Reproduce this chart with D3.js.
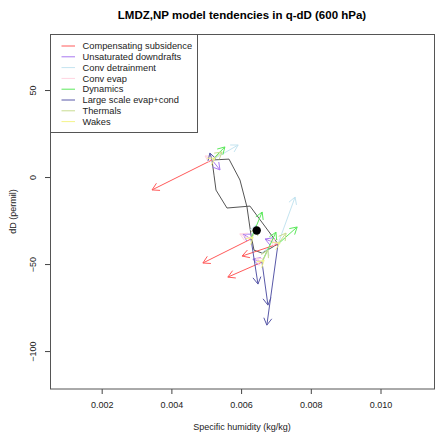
<!DOCTYPE html>
<html>
<head>
<meta charset="utf-8">
<script src="https://cdn.jsdelivr.net/npm/d3@7"></script>
<style>
  body { margin: 0; background: #fff; }
  svg { font-family: "Liberation Sans", Arial, sans-serif; }
</style>
</head>
<body>
<div id="chart"></div>
<script>
// tendency names (legend order) and colours
const tendencies = ['Compensating subsidence', 'Unsaturated downdrafts', 'Conv detrainment',
    'Conv evap', 'Dynamics', 'Large scale evap+cond', 'Thermals', 'Wakes'];
const tendencyColors = ['#ff5a5a', '#a878f0', '#c4e4f0', '#ffd4e0', '#5ae85a', '#5858a8', '#c8dc90', '#f4f48a'];

// ticks
const xTicks = [0.002, 0.004, 0.006, 0.008, 0.010];
const yTicks = [50, 0, -50, -100];

// q-dD trajectory
const trajQ = [0.005165, 0.005653, 0.005968, 0.006169, 0.006284, 0.006370, 0.006600, 0.007059,
    0.006255, 0.005595, 0.005280, 0.005223, 0.005165];
const trajDD = [9.8, 10.3, -1.7, -17.2, -33.3, -42.0, -43.7, -38.5, -16.7, -17.8, -7.5, 1.1, 9.8];

// mean point
const meanQ = 0.006448;
const meanDD = -30.7;

// arrow origins
const originQ = [0.005165, 0.006284, 0.007059, 0.006600];
const originDD = [9.8, -35.6, -38.5, -48.9];

// tendencies at each origin (dq, ddD)
const compSubsDq = [-0.00172, -0.00138, -0.00103, -0.00098];
const compSubsDdD = [-17.2, -13.8, -6.9, -8.6];
const unsatDownDq = [0.00023, -0.00023, -0.00037, -0.00026];
const unsatDownDdD = [-5.7, 2.9, 2.9, 1.7];
const convDetrDq = [0.00075, 0.00014, 0.00049, 0.00017];
const convDetrDdD = [8.6, 8.0, 27.0, 8.0];
const convEvapDq = [-0.00020, -0.00032, -0.00023, -0.00017];
const convEvapDdD = [2.3, 2.9, 2.3, 2.3];
const dynamicsDq = [0.00037, 0.00032, 0.00055, 0.00040];
const dynamicsDdD = [7.5, 15.5, 9.8, 17.2];
const largeScaleDq = [-0.00006, 0.00020, -0.00032, 0.00017];
const largeScaleDdD = [4.0, -25.9, -46.6, -24.7];
const thermalsDq = [0.00029, 0.00020, 0.00023, 0.00017];
const thermalsDdD = [4.6, 6.3, 6.3, 6.9];
const wakesDq = [0.00009, 0.00006, 0.00006, 0.00006];
const wakesDdD = [1.1, 1.1, 0.6, 1.1];

const tendencyDq = [compSubsDq, unsatDownDq, convDetrDq, convEvapDq, dynamicsDq, largeScaleDq, thermalsDq, wakesDq];
const tendencyDdD = [compSubsDdD, unsatDownDdD, convDetrDdD, convEvapDdD, dynamicsDdD, largeScaleDdD, thermalsDdD, wakesDdD];

const width = 435;
const height = 433;
const margin = {top: 34, right: 1, bottom: 44, left: 50};
const chartWidth = width - margin.left - margin.right;
const chartHeight = height - margin.top - margin.bottom;

const xScale = d3.scaleLinear()
    .domain([0.000517, 0.011535])
    .range([0, chartWidth]);
const yScale = d3.scaleLinear()
    .domain([-121.8, 82.2])
    .range([chartHeight, 0]);

const svg = d3.select('#chart')
  .append('svg')
    .attr('width', width)
    .attr('height', height);

const g = svg.append('g')
    .attr('transform', `translate(${margin.left},${margin.top})`);

// axes
const xAxis = d3.axisBottom(xScale)
    .tickValues(xTicks)
    .tickFormat(d3.format('.3f'))
    .tickSize(5)
    .tickPadding(8);
const yAxis = d3.axisLeft(yScale)
    .tickValues(yTicks)
    .tickSize(5);

const xg = g.append('g')
    .attr('transform', `translate(0,${chartHeight})`)
    .call(xAxis);
const yg = g.append('g').call(yAxis);

[xg, yg].forEach(ax => {
    ax.select('.domain').remove();
    ax.selectAll('line').attr('stroke', '#444');
    ax.selectAll('text')
        .attr('fill', '#222')
        .style('font-size', '9px');
});
// rotated y tick labels, as in R
yg.selectAll('.tick text')
    .attr('text-anchor', 'middle')
    .attr('transform', 'rotate(-90)')
    .attr('x', 0)
    .attr('y', -14)
    .attr('dy', '0');

// box
g.append('rect')
    .attr('x', 0.5)
    .attr('y', 0.5)
    .attr('width', chartWidth)
    .attr('height', chartHeight - 0.5)
    .attr('fill', 'none')
    .attr('stroke', '#555')
    .attr('stroke-width', 1);

// trajectory
const line = d3.line()
    .x(i => xScale(trajQ[i]))
    .y(i => yScale(trajDD[i]));
g.append('path')
    .attr('d', line(d3.range(trajQ.length)))
    .attr('fill', 'none')
    .attr('stroke', '#555')
    .attr('stroke-width', 1);

// arrows
const headLen = 8;
const headAngle = Math.PI / 6;
tendencies.forEach((name, t) => {
    const color = tendencyColors[t];
    originQ.forEach((q0, k) => {
        const x0 = xScale(q0);
        const y0 = yScale(originDD[k]);
        const x1 = xScale(q0 + tendencyDq[t][k]);
        const y1 = yScale(originDD[k] + tendencyDdD[t][k]);
        const a = Math.atan2(y1 - y0, x1 - x0);
        const path = d3.path();
        path.moveTo(x0, y0);
        path.lineTo(x1, y1);
        path.moveTo(x1 - headLen * Math.cos(a - headAngle), y1 - headLen * Math.sin(a - headAngle));
        path.lineTo(x1, y1);
        path.lineTo(x1 - headLen * Math.cos(a + headAngle), y1 - headLen * Math.sin(a + headAngle));
        g.append('path')
            .attr('d', path.toString())
            .attr('fill', 'none')
            .attr('stroke', color)
            .attr('stroke-width', 1);
    });
});

// mean point
g.append('circle')
    .attr('cx', xScale(meanQ))
    .attr('cy', yScale(meanDD))
    .attr('r', 4.2)
    .attr('fill', '#000');

// legend
const legend = g.append('g');
legend.append('rect')
    .attr('x', 0.5)
    .attr('y', 0.5)
    .attr('width', 147)
    .attr('height', 98)
    .attr('fill', '#fff')
    .attr('stroke', '#555');
tendencies.forEach((name, t) => {
    const ly = 12 + t * 10.8;
    legend.append('line')
        .attr('x1', 11.5)
        .attr('x2', 25)
        .attr('y1', ly)
        .attr('y2', ly)
        .attr('stroke', tendencyColors[t])
        .attr('stroke-width', 1);
    legend.append('text')
        .attr('x', 32.5)
        .attr('y', ly + 3.2)
        .style('font-size', '9.3px')
        .attr('fill', '#222')
        .text(name);
});

// titles
svg.append('text')
    .attr('x', margin.left + chartWidth / 2)
    .attr('y', 19)
    .attr('text-anchor', 'middle')
    .style('font-size', '11.5px')
    .style('font-weight', 'bold')
    .text('LMDZ,NP model tendencies in q-dD (600 hPa)');
svg.append('text')
    .attr('x', margin.left + chartWidth / 2)
    .attr('y', 430)
    .attr('text-anchor', 'middle')
    .style('font-size', '9px')
    .attr('fill', '#222')
    .text('Specific humidity (kg/kg)');
svg.append('text')
    .attr('transform', `translate(16,${margin.top + chartHeight / 2}) rotate(-90)`)
    .attr('text-anchor', 'middle')
    .style('font-size', '9px')
    .attr('fill', '#222')
    .text('dD (permil)');
</script>
</body>
</html>
